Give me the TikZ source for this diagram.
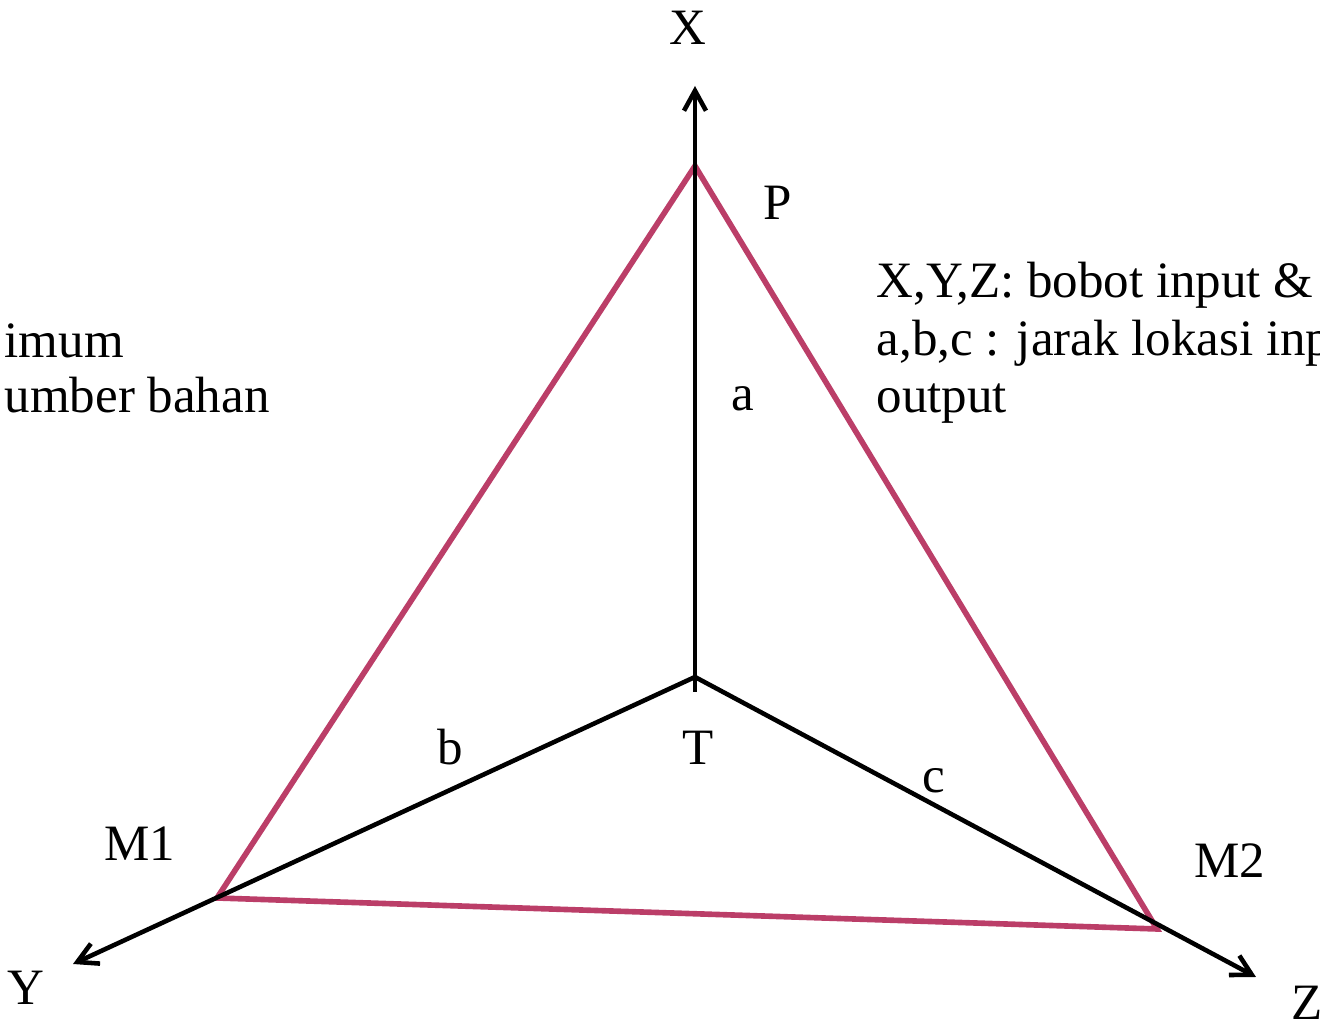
\documentclass[tikz,border=0pt]{standalone}
\usepackage{fontspec}
\setmainfont{Liberation Serif}
\usetikzlibrary{arrows.meta}
\definecolor{edgepink}{RGB}{187,62,104}

\begin{document}
\begin{tikzpicture}[x=0.01cm, y=-0.01cm, every node/.style={font=\fontsize{14.5}{17}\selectfont, inner sep=0pt}, >={Straight Barb[length=2mm, width=2.2mm]}, axis/.style={line width=1.3pt}, tri/.style={edgepink, line width=1.6pt}]
	\useasboundingbox (0,0) rectangle (1320,1022);
	\coordinate (T) at (695,677);
	\coordinate (Tfoot) at (695,692);
	\coordinate (Xtip) at (695,86);
	\coordinate (Ytip) at (73,964);
	\coordinate (Ztip) at (1256,977);
	\coordinate (P) at (695,166);
	\coordinate (M1) at (217,898);
	\coordinate (M2) at (1157,929);
	\draw[tri] (P) -- (M1) -- (M2) -- cycle;
	\draw[axis, ->] (Tfoot) -- (Xtip);
	\draw[axis, <->] (Ytip) -- (T) -- (Ztip);
	\node (lX) at (688,28) {X};
	\node (lP) at (778,203) {P};
	\node (la) at (743,399) {a};
	\node (lb) at (450,747) {b};
	\node (lT) at (698,748) {T};
	\node (lc) at (934,781) {c};
	\node (lM1) at (140,844) {M1};
	\node (lM2) at (1230,861) {M2};
	\node (lY) at (26,988) {Y};
	\node (lZ) at (1307,1003) {Z};
	\node[anchor=base west] (key1) at (876,298) {X,Y,Z: bobot input \&};
	\node[anchor=base west] (key2) at (876,356) {a,b,c : jarak lokasi inp};
	\node[anchor=base west] (key3) at (876,413) {output};
	\node[anchor=base west] (opt1) at (4,358) {imum};
	\node[anchor=base west] (opt2) at (4,413) {umber bahan};
\end{tikzpicture}
\end{document}
